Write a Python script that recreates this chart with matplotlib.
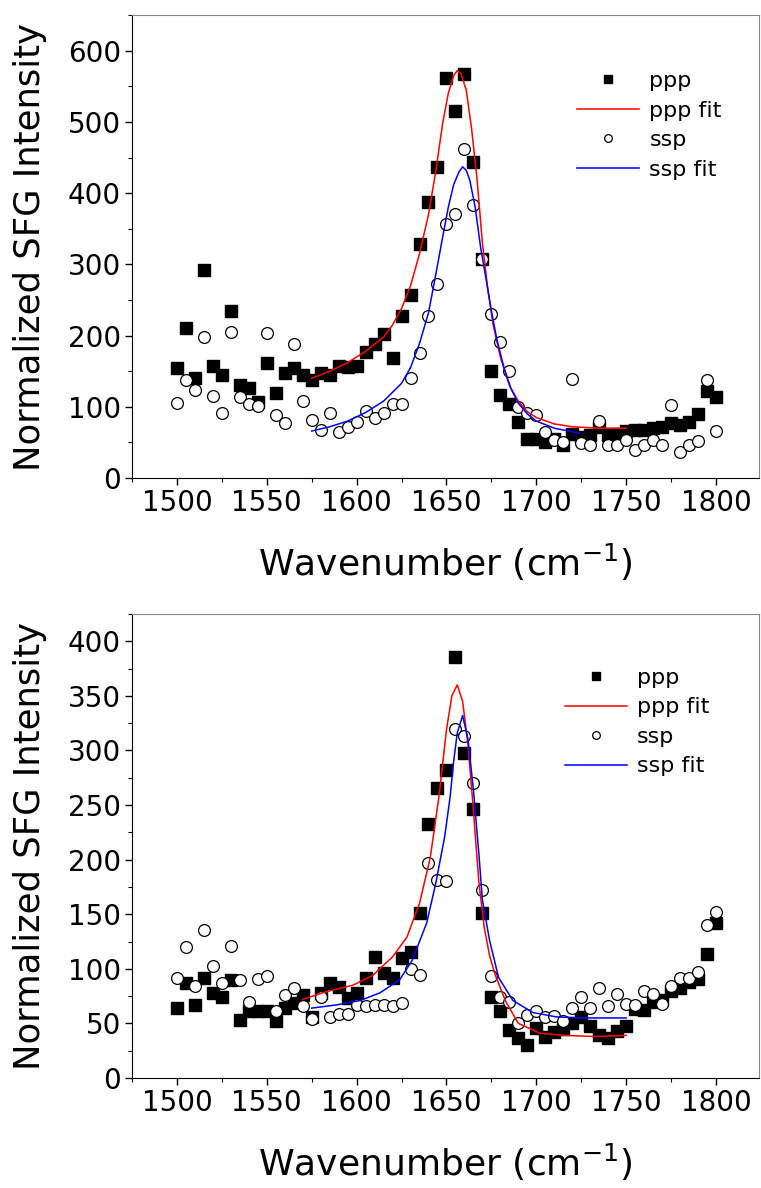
import numpy as np
import matplotlib
matplotlib.use("Agg")
from matplotlib import pyplot as plt
from matplotlib.ticker import MultipleLocator

plt.rcParams['font.family'] = ['DejaVu Sans']
plt.rcParams['mathtext.default'] = 'regular'

# wavenumber grid of the measured points (cm-1)
wn = np.arange(1500, 1805, 5)

# top panel: measured intensities
top_ppp = [155, 210, 140, 292, 157, 145, 235, 130, 127, 107,
           162, 120, 148, 154, 144, 137, 148, 145, 157, 156,
           157, 177, 188, 202, 168, 227, 257, 328, 387, 437,
           562, 516, 567, 444, 308, 150, 116, 104, 78, 55,
           55, 50, 55, 47, 62, 58, 60, 72, 60, 62,
           66, 68, 67, 70, 72, 77, 74, 78, 90, 122, 114]
top_ssp = [105, 137, 123, 198, 115, 91, 205, 114, 104, 101,
           203, 88, 77, 188, 108, 82, 67, 91, 65, 72,
           79, 94, 85, 92, 104, 104, 140, 176, 227, 272,
           356, 371, 462, 384, 308, 231, 191, 151, 100, 91,
           88, 65, 53, 51, 139, 49, 46, 80, 46, 46,
           53, 39, 46, 53, 46, 102, 37, 46, 52, 137, 66]

# top panel: fit curves
top_ppp_fit_x = [1575, 1585, 1595, 1605, 1615, 1620, 1625, 1630, 1635, 1640,
                 1644, 1648, 1651, 1654, 1656, 1658, 1661, 1664, 1667, 1670,
                 1673, 1676, 1680, 1685, 1690, 1695, 1700, 1710, 1720, 1735, 1750]
top_ppp_fit_y = [140, 150, 162, 178, 198, 215, 238, 270, 315, 370,
                 430, 500, 540, 565, 572, 568, 545, 490, 420, 330,
                 265, 215, 170, 130, 108, 93, 85, 76, 72, 70, 70]
top_ssp_fit_x = [1575, 1585, 1595, 1605, 1615, 1625, 1630, 1635, 1640, 1644,
                 1648, 1651, 1654, 1657, 1659, 1661, 1663, 1666, 1669, 1672,
                 1675, 1678, 1682, 1686, 1690, 1695, 1700, 1710, 1724]
top_ssp_fit_y = [66, 72, 80, 92, 108, 133, 155, 189, 232, 285,
                 340, 380, 412, 430, 437, 432, 418, 380, 324, 280,
                 235, 195, 155, 125, 105, 90, 80, 70, 63]

# bottom panel: measured intensities
bot_ppp = [64, 87, 67, 92, 78, 74, 90, 53, 61, 61,
           61, 52, 64, 69, 76, 56, 78, 87, 83, 73,
           78, 92, 111, 96, 92, 110, 115, 151, 233, 266,
           282, 386, 298, 246, 151, 74, 61, 44, 37, 30,
           46, 38, 42, 45, 50, 56, 48, 39, 37, 43,
           48, 63, 62, 70, 71, 80, 82, 88, 91, 114, 142]
bot_ssp = [92, 120, 84, 136, 103, 87, 121, 90, 70, 91,
           93, 61, 76, 82, 66, 54, 74, 56, 59, 59,
           67, 66, 67, 67, 66, 69, 100, 94, 197, 181,
           180, 320, 313, 270, 172, 93, 74, 70, 50, 58,
           61, 56, 57, 52, 64, 74, 64, 82, 66, 77,
           68, 67, 80, 77, 68, 84, 92, 92, 97, 140, 152]

# bottom panel: fit curves
bot_ppp_fit_x = [1570, 1583, 1598, 1609, 1620, 1628, 1635, 1641, 1646, 1650,
                 1653, 1656, 1659, 1662, 1665, 1668, 1671, 1674, 1677, 1683,
                 1690, 1702, 1716, 1732, 1750]
bot_ppp_fit_y = [72, 79, 85, 94, 111, 129, 160, 202, 260, 319,
                 350, 360, 345, 305, 245, 180, 138, 112, 95, 70,
                 50, 41, 39, 38, 39]
bot_ssp_fit_x = [1575, 1589, 1602, 1613, 1624, 1631, 1639, 1644, 1649, 1652,
                 1654, 1656, 1659, 1662, 1665, 1668, 1670, 1674, 1679, 1687,
                 1698, 1711, 1724, 1750]
bot_ssp_fit_y = [64, 67, 71, 78, 90, 108, 142, 178, 221, 257,
                 290, 316, 332, 310, 264, 206, 163, 126, 92, 71,
                 60, 56, 55, 55]

fig = plt.figure(figsize=(7.61, 11.88), dpi=100)


def draw_panel(ax, ppp, ssp, pfx, pfy, sfx, sfy, ymax, ystep, leg_anchor):
    ax.plot(wn, ppp, ls='none', marker='s', ms=8, color='black', label='ppp', zorder=2)
    ax.plot(pfx, pfy, color='red', lw=1.1, label='ppp fit', zorder=4)
    ax.plot(wn, ssp, ls='none', marker='o', ms=8.5, mfc='white', mec='black',
            mew=0.9, label='ssp', zorder=3)
    ax.plot(sfx, sfy, color='blue', lw=1.1, label='ssp fit', zorder=4)

    ax.set_xlim(1475, 1824)
    ax.set_ylim(0, ymax)
    ax.xaxis.set_major_locator(MultipleLocator(50))
    ax.xaxis.set_minor_locator(MultipleLocator(25))
    ax.yaxis.set_major_locator(MultipleLocator(ystep))
    ax.yaxis.set_minor_locator(MultipleLocator(ystep / 2))
    ax.tick_params(which='major', direction='out', length=5, width=1, labelsize=20, pad=3)
    ax.tick_params(which='minor', direction='out', length=3, width=0.8)
    for side in ['top', 'right']:
        ax.spines[side].set_color('#888888')
    ax.set_xlabel('Wavenumber (cm$^{-1}$)', fontsize=26, labelpad=18)
    ax.set_ylabel('Normalized SFG Intensity', fontsize=25.5, labelpad=15)

    ax.legend(loc='upper left', bbox_to_anchor=leg_anchor, frameon=False,
              fontsize=16, markerscale=0.65, handlelength=2.8, handletextpad=0.45,
              labelspacing=0.43, borderpad=0, borderaxespad=0)


ax1 = fig.add_axes([0.1735, 0.5976, 0.824, 0.3897])
draw_panel(ax1, top_ppp, top_ssp, top_ppp_fit_x, top_ppp_fit_y,
           top_ssp_fit_x, top_ssp_fit_y, 650, 100, (0.71, 0.879))

ax2 = fig.add_axes([0.1735, 0.0926, 0.824, 0.3906])
draw_panel(ax2, bot_ppp, bot_ssp, bot_ppp_fit_x, bot_ppp_fit_y,
           bot_ssp_fit_x, bot_ssp_fit_y, 425, 50, (0.69, 0.884))

fig.savefig('out.png', dpi=100)
